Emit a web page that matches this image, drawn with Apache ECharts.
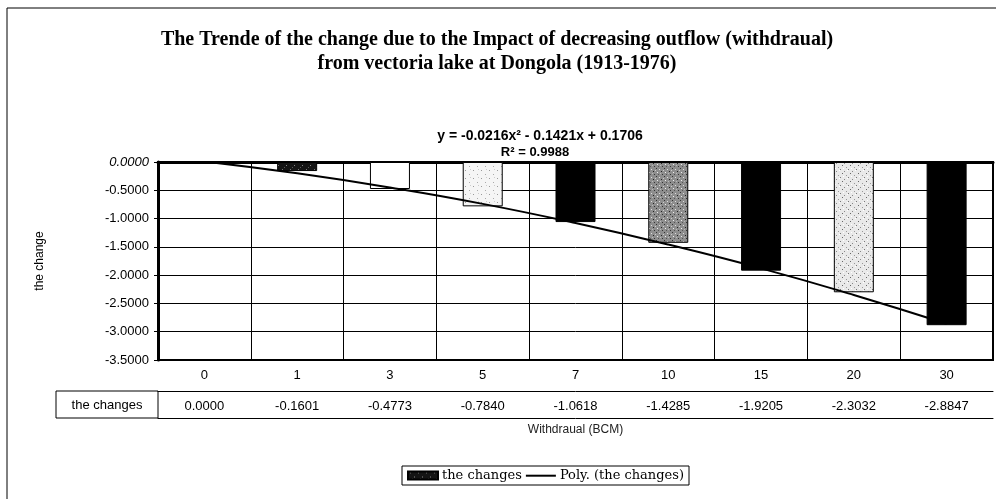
<!DOCTYPE html>
<html>
<head>
<meta charset="utf-8">
<script src="https://cdn.jsdelivr.net/npm/echarts@6/dist/echarts.min.js"></script>
<style>html,body{margin:0;padding:0;background:#fff}#main{width:996px;height:499px}</style>
</head>
<body>
<div id="main"></div>
<script>
// withdrawal categories (BCM) and the change at Dongola
var categories = ['0', '1', '3', '5', '7', '10', '15', '20', '30'];
var changes = [0.0000, -0.1601, -0.4773, -0.7840, -1.0618, -1.4285, -1.9205, -2.3032, -2.8847];
// polynomial trendline at each category
var trend = [0.01, -0.20, -0.45, -0.74, -1.08, -1.46, -1.88, -2.35, -2.86];
var equation = 'y = -0.0216x\u00b2 - 0.1421x + 0.1706';
var rSquared = 'R\u00b2 = 0.9988';

// little speckle tiles, like the scanned excel fills
function speckle(bg, dots) {
    var c = document.createElement('canvas');
    c.width = 8;
    c.height = 8;
    var ctx = c.getContext('2d');
    ctx.fillStyle = bg;
    ctx.fillRect(0, 0, 8, 8);
    dots.forEach(function (d) {
        ctx.fillStyle = d[2];
        ctx.fillRect(d[0], d[1], 1, 1);
    });
    return { image: c, repeat: 'repeat' };
}
var dark = speckle('#141414', [[2, 1, '#777'], [6, 5, '#888'], [4, 7, '#555']]);
var white = '#ffffff';
var light = speckle('#f5f5f5', [[1, 2, '#999'], [5, 6, '#aaa'], [6, 1, '#ccc']]);
var gray = speckle('#8e8e8e', [[0, 0, '#333'], [3, 1, '#ddd'], [5, 3, '#222'], [1, 4, '#eee'],
    [6, 6, '#333'], [2, 6, '#555'], [7, 2, '#ccc'], [4, 5, '#bbb']]);
var lightGray = speckle('#e9e9e9', [[0, 1, '#777'], [4, 3, '#888'], [2, 5, '#666'], [6, 7, '#999'],
    [7, 2, '#fff'], [3, 0, '#fff']]);
var black = '#000000';
var fills = [black, dark, white, light, black, gray, black, lightGray, black];

var chart = echarts.init(document.getElementById('main'), null, { renderer: 'canvas' });

var sans = 'Liberation Sans';
var serif = 'Liberation Serif';

var option = {
    backgroundColor: '#ffffff',
    animation: false,
    title: [{
        text: 'The Trende of the change due to the Impact of decreasing outflow (withdraual)',
        left: 492, top: 25, textAlign: 'center',
        textStyle: { fontFamily: serif, fontWeight: 'bold', fontSize: 20, color: '#000' }
    }, {
        text: 'from vectoria lake at Dongola (1913-1976)',
        left: 492, top: 49, textAlign: 'center',
        textStyle: { fontFamily: serif, fontWeight: 'bold', fontSize: 20, color: '#000' }
    }],
    legend: {
        left: 402, top: 466,
        padding: [3, 5],
        itemGap: 4,
        itemWidth: 30,
        itemHeight: 8,
        borderColor: '#000',
        borderWidth: 1,
        borderRadius: 0,
        textStyle: { fontFamily: 'DejaVu Serif', fontSize: 13, color: '#000', padding: [0, 0, 0, -1] },
        data: [
            { name: 'the changes', icon: 'rect' },
            { name: 'Poly. (the changes)', icon: 'path://M0,0M30,8M0,3.2L30,3.2L30,5.2L0,5.2Z' }
        ]
    },
    grid: {
        left: 158, right: 3, top: 162, bottom: 139,
        show: true, borderColor: '#000', borderWidth: 2
    },
    xAxis: [{
        type: 'category',
        data: categories,
        position: 'bottom',
        axisLine: { lineStyle: { color: '#000', width: 3 } },
        axisTick: { show: true, length: 58, lineStyle: { color: '#000', width: 1 } },
        axisLabel: { interval: 0, margin: 9, fontFamily: sans, fontSize: 13, color: '#000' },
        splitLine: { show: true, lineStyle: { color: '#000', width: 1 } }
    }, {
        type: 'category',
        data: categories,
        position: 'bottom',
        offset: 31,
        axisLine: { lineStyle: { color: '#000', width: 1 } },
        axisTick: { show: false },
        axisLabel: {
            interval: 0, margin: 9, fontFamily: sans, fontSize: 13, color: '#000',
            formatter: function (v, i) { return changes[i].toFixed(4); }
        }
    }, {
        type: 'category',
        data: categories,
        position: 'bottom',
        offset: 58,
        axisLine: { lineStyle: { color: '#000', width: 1 } },
        axisTick: { show: false },
        axisLabel: { show: false },
        name: 'Withdraual (BCM)',
        nameLocation: 'middle',
        nameGap: 12,
        nameTextStyle: { fontFamily: sans, fontSize: 12, color: '#222', verticalAlign: 'middle' }
    }],
    yAxis: {
        type: 'value',
        min: -3.5,
        max: 0,
        interval: 0.5,
        name: 'the change',
        nameLocation: 'middle',
        nameGap: 112,
        nameTextStyle: { fontFamily: sans, fontSize: 12, color: '#000' },
        axisLine: { show: true, lineStyle: { color: '#000', width: 3 } },
        axisTick: { show: true, length: 4, lineStyle: { color: '#000' } },
        axisLabel: {
            margin: 9, fontFamily: sans, fontSize: 13, color: '#000',
            formatter: function (v) {
                return v === 0 ? '{i|0.0000}' : v.toFixed(4);
            },
            rich: { i: { fontStyle: 'italic', fontFamily: sans, fontSize: 13, color: '#000' } }
        },
        splitLine: { show: true, lineStyle: { color: '#000', width: 1 } }
    },
    series: [{
        name: 'the changes',
        type: 'bar',
        barWidth: 40,
        itemStyle: { color: dark, borderColor: '#000', borderWidth: 1 },
        data: changes.map(function (v, i) {
            return { value: v, itemStyle: { color: fills[i] } };
        }),
        z: 2
    }, {
        name: 'Poly. (the changes)',
        type: 'line',
        smooth: true,
        symbol: 'none',
        lineStyle: { color: '#000', width: 2 },
        itemStyle: { color: '#000' },
        data: trend,
        z: 3
    }],
    graphic: [{
        type: 'rect',
        shape: { x: 7, y: 8, width: 1000, height: 500 },
        style: { fill: 'none', stroke: '#000', lineWidth: 1 },
        silent: true
    }, {
        type: 'rect',
        shape: { x: 56, y: 391, width: 102, height: 27 },
        style: { fill: 'none', stroke: '#000', lineWidth: 1 },
        silent: true
    }, {
        type: 'text',
        x: 107, y: 405,
        style: { text: 'the changes', fontFamily: sans, fontSize: 13, fill: '#000', align: 'center', verticalAlign: 'middle' }
    }, {
        type: 'text',
        x: 540, y: 136,
        style: { text: equation, fontFamily: sans, fontWeight: 'bold', fontSize: 14, fill: '#000', align: 'center', verticalAlign: 'middle' }
    }, {
        type: 'text',
        x: 535, y: 152,
        style: { text: rSquared, fontFamily: sans, fontWeight: 'bold', fontSize: 13, fill: '#000', align: 'center', verticalAlign: 'middle' }
    }]
};

chart.setOption(option);
</script>
</body>
</html>
